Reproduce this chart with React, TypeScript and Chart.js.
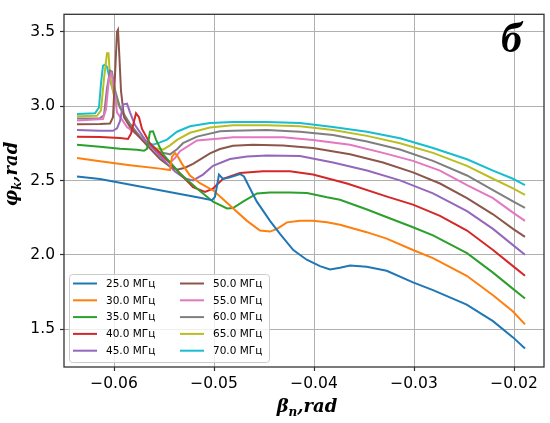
import React, { useEffect, useRef } from 'react';
import { Chart, registerables } from 'chart.js';

Chart.register(...registerables);

const seriesLabels = ['25.0 МГц', '30.0 МГц', '35.0 МГц', '40.0 МГц', '45.0 МГц', '50.0 МГц', '55.0 МГц', '60.0 МГц', '65.0 МГц', '70.0 МГц'];
const seriesColors = ['#1f77b4', '#ff7f0e', '#2ca02c', '#d62728', '#9467bd', '#8c564b', '#e377c2', '#7f7f7f', '#bcbd22', '#17becf'];

const xTickValues = [-0.06, -0.05, -0.04, -0.03, -0.02];
const yTickValues = [1.5, 2.0, 2.5, 3.0, 3.5];

// 25 MHz
const x25 = [-0.0637, -0.0614, -0.0594, -0.0574, -0.0554, -0.0534, -0.0514, -0.0502, -0.0499, -0.0495, -0.0491, -0.0484, -0.0474, -0.0470, -0.04673, -0.04573, -0.0444, -0.0434, -0.04207, -0.04073, -0.0394, -0.0384, -0.0374, -0.0364, -0.03473, -0.03273, -0.0301, -0.0281, -0.02473, -0.0221, -0.0201, -0.0189];
const y25 = [2.527, 2.510, 2.485, 2.460, 2.434, 2.409, 2.384, 2.368, 2.390, 2.540, 2.511, 2.521, 2.544, 2.527, 2.490, 2.360, 2.229, 2.142, 2.033, 1.968, 1.925, 1.903, 1.914, 1.929, 1.920, 1.894, 1.816, 1.764, 1.666, 1.555, 1.446, 1.372];
// 30 MHz
const x30 = [-0.0637, -0.0614, -0.0584, -0.0554, -0.0544, -0.0542, -0.0539, -0.0536, -0.0532, -0.0524, -0.0514, -0.0500, -0.0484, -0.0467, -0.0454, -0.0444, -0.0437, -0.0427, -0.0414, -0.0401, -0.0387, -0.0374, -0.03473, -0.03273, -0.0301, -0.0281, -0.02473, -0.0221, -0.0201, -0.0189];
const y30 = [2.651, 2.629, 2.603, 2.580, 2.570, 2.660, 2.684, 2.660, 2.612, 2.534, 2.482, 2.430, 2.332, 2.229, 2.164, 2.157, 2.175, 2.219, 2.229, 2.229, 2.219, 2.203, 2.153, 2.110, 2.033, 1.979, 1.860, 1.729, 1.620, 1.533];
// 35 MHz
const x35 = [-0.0637, -0.0614, -0.0594, -0.0577, -0.0570, -0.0567, -0.0564, -0.0561, -0.0558, -0.0551, -0.0534, -0.0517, -0.0501, -0.0487, -0.0481, -0.0471, -0.0457, -0.0444, -0.0424, -0.0407, -0.0387, -0.0374, -0.0347, -0.0327, -0.0301, -0.0281, -0.0247, -0.0221, -0.0201, -0.0189];
const y35 = [2.741, 2.727, 2.713, 2.707, 2.700, 2.713, 2.828, 2.831, 2.775, 2.678, 2.547, 2.446, 2.358, 2.312, 2.315, 2.358, 2.413, 2.420, 2.420, 2.416, 2.387, 2.371, 2.305, 2.253, 2.186, 2.131, 2.012, 1.881, 1.772, 1.707];
// 40 MHz
const x40 = [-0.0637, -0.0614, -0.0594, -0.0586, -0.0583, -0.0578, -0.0575, -0.0572, -0.0564, -0.0554, -0.0544, -0.0534, -0.0521, -0.0509, -0.0501, -0.0491, -0.0474, -0.0451, -0.0424, -0.0401, -0.0367, -0.0327, -0.0301, -0.0274, -0.0247, -0.0221, -0.0201, -0.0189];
const y40 = [2.795, 2.792, 2.785, 2.779, 2.815, 2.952, 2.926, 2.847, 2.749, 2.684, 2.619, 2.547, 2.456, 2.423, 2.446, 2.511, 2.550, 2.562, 2.562, 2.540, 2.480, 2.392, 2.338, 2.262, 2.164, 2.033, 1.925, 1.860];
// 45 MHz
const x45 = [-0.0637, -0.0614, -0.0601, -0.0597, -0.0594, -0.0591, -0.0587, -0.0584, -0.0579, -0.0569, -0.0554, -0.0539, -0.0529, -0.0521, -0.0511, -0.0501, -0.0484, -0.0467, -0.0447, -0.0414, -0.0381, -0.0347, -0.0314, -0.0281, -0.0247, -0.0221, -0.0201, -0.0189];
const y45 = [2.839, 2.834, 2.834, 2.851, 2.899, 3.010, 3.017, 2.958, 2.873, 2.775, 2.664, 2.560, 2.514, 2.501, 2.540, 2.599, 2.645, 2.661, 2.669, 2.665, 2.621, 2.567, 2.501, 2.414, 2.294, 2.175, 2.066, 2.001];
// 50 MHz
const x50 = [-0.0637, -0.0614, -0.0604, -0.0601, -0.0599, -0.0597, -0.0596, -0.05945, -0.0593, -0.0590, -0.0584, -0.0577, -0.0567, -0.0554, -0.0544, -0.0537, -0.0529, -0.0521, -0.0504, -0.0494, -0.0481, -0.0461, -0.0431, -0.0401, -0.0364, -0.0331, -0.0301, -0.0274, -0.0247, -0.0221, -0.0201, -0.0189];
const y50 = [2.878, 2.880, 2.883, 2.926, 3.206, 3.500, 3.513, 3.317, 3.102, 2.926, 2.860, 2.808, 2.736, 2.645, 2.593, 2.573, 2.586, 2.612, 2.682, 2.712, 2.734, 2.741, 2.736, 2.719, 2.676, 2.621, 2.555, 2.480, 2.382, 2.273, 2.175, 2.121];
// 55 MHz
const x55 = [-0.0637, -0.0611, -0.0608, -0.0605, -0.06025, -0.0600, -0.0597, -0.0587, -0.0577, -0.0567, -0.0557, -0.0549, -0.0544, -0.0539, -0.0534, -0.0517, -0.0494, -0.0481, -0.0431, -0.0401, -0.0364, -0.0331, -0.0301, -0.0274, -0.0247, -0.0221, -0.0201, -0.0189];
const y55 = [2.903, 2.913, 2.978, 3.187, 3.219, 3.121, 2.958, 2.860, 2.808, 2.749, 2.691, 2.645, 2.622, 2.651, 2.697, 2.769, 2.782, 2.790, 2.790, 2.773, 2.741, 2.686, 2.632, 2.567, 2.469, 2.382, 2.284, 2.229];
// 60 MHz
const x60 = [-0.0637, -0.0614, -0.0610, -0.0607, -0.0604, -0.0602, -0.0599, -0.0594, -0.0584, -0.0574, -0.0564, -0.0554, -0.0544, -0.0537, -0.0531, -0.0517, -0.0494, -0.0481, -0.0447, -0.0414, -0.0381, -0.0347, -0.0314, -0.0281, -0.0247, -0.0221, -0.0201, -0.0189];
const y60 = [2.916, 2.919, 2.939, 3.121, 3.239, 3.232, 3.108, 2.991, 2.880, 2.795, 2.736, 2.691, 2.676, 2.710, 2.751, 2.795, 2.831, 2.834, 2.839, 2.828, 2.806, 2.762, 2.708, 2.632, 2.534, 2.436, 2.360, 2.317];
// 65 MHz
const x65 = [-0.0637, -0.0617, -0.0613, -0.0610, -0.0607, -0.06055, -0.0604, -0.0600, -0.0589, -0.0578, -0.0567, -0.0558, -0.0551, -0.0544, -0.0537, -0.0524, -0.0504, -0.0481, -0.0447, -0.0414, -0.0381, -0.0347, -0.0314, -0.0281, -0.0247, -0.0221, -0.0201, -0.0189];
const y65 = [2.932, 2.935, 2.971, 3.187, 3.356, 3.356, 3.200, 3.069, 2.926, 2.821, 2.749, 2.717, 2.708, 2.736, 2.773, 2.821, 2.856, 2.871, 2.871, 2.865, 2.839, 2.800, 2.751, 2.686, 2.599, 2.512, 2.447, 2.403];
// 70 MHz
const x70 = [-0.0637, -0.0619, -0.0615, -0.0613, -0.0611, -0.0609, -0.0607, -0.0604, -0.0598, -0.0588, -0.0578, -0.0568, -0.0561, -0.0554, -0.0547, -0.0537, -0.0524, -0.0504, -0.0481, -0.0447, -0.0414, -0.0381, -0.0347, -0.0314, -0.0281, -0.0247, -0.0221, -0.0201, -0.0189];
const y70 = [2.947, 2.952, 2.991, 3.154, 3.272, 3.278, 3.265, 3.174, 3.043, 2.913, 2.821, 2.759, 2.741, 2.756, 2.775, 2.828, 2.865, 2.886, 2.893, 2.893, 2.886, 2.860, 2.828, 2.784, 2.719, 2.643, 2.567, 2.512, 2.469];

const seriesX = [x25, x30, x35, x40, x45, x50, x55, x60, x65, x70];
const seriesY = [y25, y30, y35, y40, y45, y50, y55, y60, y65, y70];

const fmt = (v: number, d: number) => v.toFixed(d).replace('-', '\u2212');

function drawSubText(ctx: CanvasRenderingContext2D, main1: string, sub: string, main2: string, cx: number, baseY: number, size: number) {
  const big = `italic bold ${size}px "DejaVu Serif"`;
  const small = `italic bold ${Math.round(size * 0.68)}px "DejaVu Serif"`;
  ctx.font = big;
  const w1 = ctx.measureText(main1).width;
  const w3 = ctx.measureText(main2).width;
  ctx.font = small;
  const w2 = ctx.measureText(sub).width;
  const total = w1 + w2 + w3;
  let x = cx - total / 2;
  ctx.textAlign = 'left';
  ctx.textBaseline = 'alphabetic';
  ctx.font = big;
  ctx.fillText(main1, x, baseY);
  x += w1;
  ctx.font = small;
  ctx.fillText(sub, x, baseY + size * 0.22);
  x += w2;
  ctx.font = big;
  ctx.fillText(main2, x, baseY);
}

const decorPlugin = {
  id: 'decor',
  afterDraw(chart: any) {
    const { ctx, chartArea } = chart;
    const { left, top, right, bottom } = chartArea;
    ctx.save();
    // spines
    ctx.strokeStyle = '#333333';
    ctx.lineWidth = 1.3;
    ctx.strokeRect(left, top, right - left, bottom - top);

    // axis titles
    ctx.fillStyle = '#000';
    drawSubText(ctx, 'β', 'n', ',rad', (left + right) / 2 + 3, 412, 18);
    ctx.save();
    ctx.translate(17, 174);
    ctx.rotate(-Math.PI / 2);
    drawSubText(ctx, 'φ', 'k', ',rad', 0, 0, 18);
    ctx.restore();

    // panel letter
    ctx.font = 'italic bold 42px "Liberation Serif"';
    ctx.textAlign = 'left';
    ctx.textBaseline = 'alphabetic';
    ctx.fillText('б', 501, 52);

    // legend
    const lx = 69.5, ly = 274.5, lw = 200, lh = 88, r = 3;
    ctx.beginPath();
    ctx.moveTo(lx + r, ly);
    ctx.lineTo(lx + lw - r, ly);
    ctx.arcTo(lx + lw, ly, lx + lw, ly + r, r);
    ctx.lineTo(lx + lw, ly + lh - r);
    ctx.arcTo(lx + lw, ly + lh, lx + lw - r, ly + lh, r);
    ctx.lineTo(lx + r, ly + lh);
    ctx.arcTo(lx, ly + lh, lx, ly + lh - r, r);
    ctx.lineTo(lx, ly + r);
    ctx.arcTo(lx, ly, lx + r, ly, r);
    ctx.closePath();
    ctx.fillStyle = 'rgba(255,255,255,0.8)';
    ctx.fill();
    ctx.strokeStyle = '#cccccc';
    ctx.lineWidth = 1;
    ctx.stroke();

    ctx.font = '10.5px "DejaVu Sans"';
    ctx.textBaseline = 'middle';
    ctx.textAlign = 'left';
    seriesLabels.forEach((lab, i) => {
      const col = Math.floor(i / 5);
      const row = i % 5;
      const y = 283.5 + row * 16.8;
      const hx = col === 0 ? 73 : 180;
      const tx = col === 0 ? 106 : 213;
      ctx.strokeStyle = seriesColors[i];
      ctx.lineWidth = 2;
      ctx.beginPath();
      ctx.moveTo(hx, y);
      ctx.lineTo(hx + 24, y);
      ctx.stroke();
      ctx.fillStyle = '#000';
      ctx.fillText(lab, tx, y + 0.5);
    });
    ctx.restore();
  },
};

export default function App() {
  const ref = useRef<HTMLCanvasElement>(null);
  useEffect(() => {
    const canvas = ref.current;
    if (!canvas) return;
    const datasets = seriesX.map((xs, i) => ({
      label: seriesLabels[i],
      data: xs.map((x, j) => ({ x, y: seriesY[i][j] })),
      borderColor: seriesColors[i],
      backgroundColor: seriesColors[i],
      borderWidth: 2,
      pointRadius: 0,
      tension: 0,
      fill: false,
    }));
    const tickFont = { family: '"DejaVu Sans"', size: 15.5 };
    const chart = new Chart(canvas, {
      type: 'line',
      data: { datasets },
      options: {
        animation: false,
        responsive: false,
        layout: { padding: { top: 4, right: 6, left: 0, bottom: 0 } },
        plugins: { legend: { display: false }, tooltip: { enabled: false } },
        scales: {
          x: {
            type: 'linear',
            min: -0.065,
            max: -0.017,
            afterBuildTicks: (s: any) => { s.ticks = xTickValues.map((v) => ({ value: v })); },
            afterFit: (s: any) => { s.height = 56; },
            ticks: { callback: (v: any) => fmt(Number(v), 2), font: tickFont, color: '#000', padding: 4, maxRotation: 0, autoSkip: false },
            grid: { color: '#b0b0b0', lineWidth: 1, tickLength: 4, tickColor: '#333333', tickWidth: 1.2 },
            border: { display: false },
          },
          y: {
            type: 'linear',
            min: 1.247,
            max: 3.617,
            afterBuildTicks: (s: any) => { s.ticks = yTickValues.map((v) => ({ value: v })); },
            afterFit: (s: any) => { s.width = 64; },
            ticks: { callback: (v: any) => fmt(Number(v), 1), font: tickFont, color: '#000', padding: 5, autoSkip: false },
            grid: { color: '#b0b0b0', lineWidth: 1, tickLength: 4, tickColor: '#333333', tickWidth: 1.2 },
            border: { display: false },
          },
        },
      },
      plugins: [decorPlugin],
    });
    return () => chart.destroy();
  }, []);
  return (
    <div style={{ position: 'fixed', left: 0, top: 0, width: 550, height: 423, background: '#fff' }}>
      <canvas ref={ref} width={550} height={423} style={{ width: 550, height: 423, display: 'block' }} />
    </div>
  );
}
